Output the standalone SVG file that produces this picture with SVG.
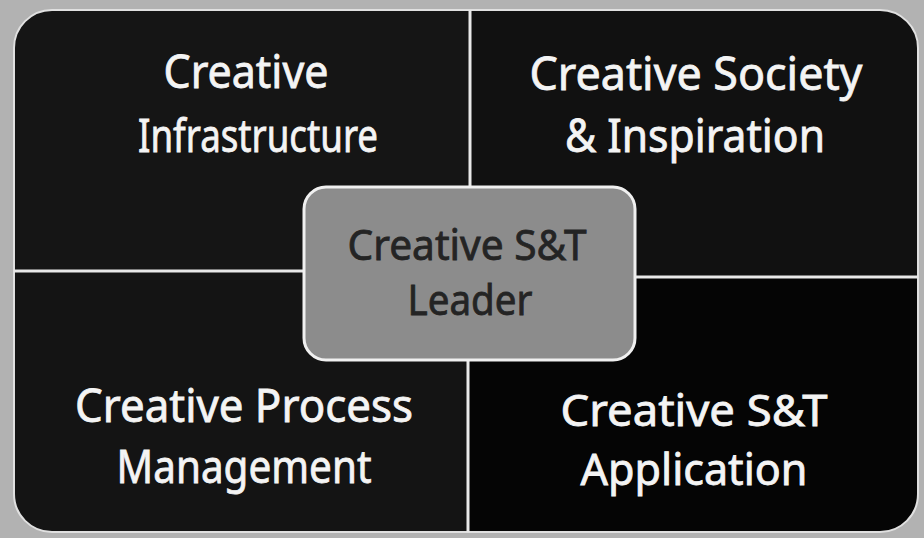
<svg xmlns="http://www.w3.org/2000/svg" width="924" height="538" viewBox="0 0 924 538">
  <style>
    .qt { font-family: "Noto Sans", "Open Sans", sans-serif; font-size: 46px; fill: #f4f4f4; stroke: #f4f4f4; stroke-width: 0.8; text-anchor: middle; }
    .ct { font-family: "Noto Sans", "Open Sans", sans-serif; font-size: 42px; fill: #242424; stroke: #242424; stroke-width: 0.8; text-anchor: middle; }
    .div { stroke: #e8e8e8; stroke-width: 3; fill: none; }
  </style>
  <defs>
    <clipPath id="panel">
      <rect x="14" y="10" width="904" height="522" rx="38" ry="38"/>
    </clipPath>
  </defs>
  <rect x="0" y="0" width="924" height="538" fill="#b2b2b2"/>
  <g id="quadrants" clip-path="url(#panel)">
    <g id="q-infrastructure">
      <rect x="14" y="10" width="456" height="263" fill="#151515"/>
    </g>
    <g id="q-society">
      <rect x="470" y="10" width="448" height="266" fill="#111111"/>
    </g>
    <g id="q-process">
      <rect x="14" y="271" width="456" height="261" fill="#141414"/>
    </g>
    <g id="q-application">
      <rect x="468" y="276" width="450" height="256" fill="#050505"/>
    </g>
  </g>
  <rect x="14" y="10" width="904" height="522" rx="38" ry="38" fill="none" stroke="#e0e0e0" stroke-width="2"/>
  <g id="connectors">
    <path class="div" d="M470 10 L470 187"/>
    <path class="div" d="M468 360 L468 532"/>
    <path class="div" d="M14 271 L304 271"/>
    <path class="div" d="M635 277 L918 277"/>
  </g>
  <g id="label-infrastructure">
    <text class="qt" x="246" y="88" textLength="165" lengthAdjust="spacingAndGlyphs">Creative</text>
    <text class="qt" x="258" y="152" textLength="240" lengthAdjust="spacingAndGlyphs">Infrastructure</text>
  </g>
  <g id="label-society">
    <text class="qt" x="696" y="90" textLength="333" lengthAdjust="spacingAndGlyphs">Creative Society</text>
    <text class="qt" x="695" y="152" textLength="260" lengthAdjust="spacingAndGlyphs">&amp; Inspiration</text>
  </g>
  <g id="label-process">
    <text class="qt" x="244" y="422" textLength="338" lengthAdjust="spacingAndGlyphs">Creative Process</text>
    <text class="qt" x="244" y="483" textLength="255" lengthAdjust="spacingAndGlyphs">Management</text>
  </g>
  <g id="label-application">
    <text class="qt" x="694" y="426" textLength="267" lengthAdjust="spacingAndGlyphs" style="font-size:43px">Creative S&amp;T</text>
    <text class="qt" x="694" y="485" textLength="227" lengthAdjust="spacingAndGlyphs" style="font-size:43px">Application</text>
  </g>
  <g id="center-leader">
    <rect x="304" y="187" width="331" height="173" rx="22" ry="22" fill="#8c8c8c" stroke="#f0f0f0" stroke-width="3"/>
    <text class="ct" x="467" y="260" textLength="239" lengthAdjust="spacingAndGlyphs">Creative S&amp;T</text>
    <text class="ct" x="470" y="315" textLength="125" lengthAdjust="spacingAndGlyphs">Leader</text>
  </g>
</svg>
